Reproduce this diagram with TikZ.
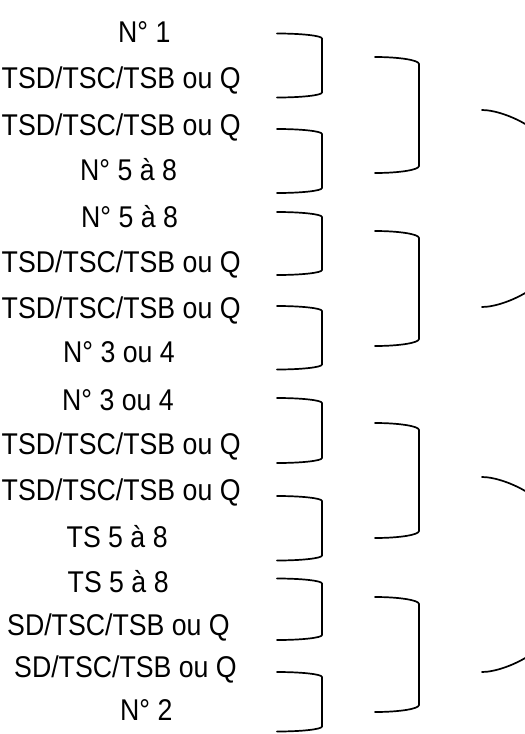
\documentclass[tikz,border=0pt]{standalone}
\usepackage{fontspec}
\usepackage{graphicx}
\setmainfont{Liberation Sans}
\newcommand\sx[1]{\scalebox{0.89}[1]{#1}}
% right bracket: left x, right x, top y, bottom y, corner height
\newcommand\mybracket[5]{%
  \draw[brk] (#1,#3) .. controls ({#1+0.552*(#2-#1)},#3) and (#2,{#3+0.448*#5}) .. (#2,{#3+#5})
    -- (#2,{#4-#5}) .. controls (#2,{#4-0.448*#5}) and ({#1+0.552*(#2-#1)},#4) .. (#1,#4);}
% outer brace (partly cut off by the right edge)
\newcommand\mybrace[3]{%
  \draw[brk] (#1,#2) .. controls ({#1+13},#2) and ({#1+33},{#2+7}) .. ({#1+48},{#2+17})
    .. controls ({#1+56},{#2+23}) and ({#1+58},{#2+35}) .. ({#1+58},{#2+50})
    -- ({#1+58},{#3-50})
    .. controls ({#1+58},{#3-35}) and ({#1+56},{#3-23}) .. ({#1+48},{#3-17})
    .. controls ({#1+33},{#3-7}) and ({#1+13},#3) .. (#1,#3);}
\begin{document}
\begin{tikzpicture}[x=1pt,y=-1pt,
  txt/.style={font=\fontsize{30}{30}\selectfont, inner sep=0pt, anchor=base west},
  brk/.style={line width=1.7pt, line cap=round, line join=round}]
\useasboundingbox (0,0) rectangle (525,734);
\clip (0,0) rectangle (525,734);
\node[txt] (l1)  at (118,{32+10.8})  {\sx{N° 1}};
\node[txt] (l2)  at (1.5,{78+10.8})  {\sx{TSD/TSC/TSB ou Q}};
\node[txt] (l3)  at (1.5,{125+10.8}) {\sx{TSD/TSC/TSB ou Q}};
\node[txt] (l4)  at (80,{170+10.8})  {\sx{N° 5 à 8}};
\node[txt] (l5)  at (81,{217+10.8})  {\sx{N° 5 à 8}};
\node[txt] (l6)  at (1.5,{262+10.8}) {\sx{TSD/TSC/TSB ou Q}};
\node[txt] (l7)  at (1.5,{308+10.8}) {\sx{TSD/TSC/TSB ou Q}};
\node[txt] (l8)  at (63,{352+10.8})  {\sx{N° 3 ou 4}};
\node[txt] (l9)  at (62,{400+10.8})  {\sx{N° 3 ou 4}};
\node[txt] (l10) at (1.5,{444+10.8}) {\sx{TSD/TSC/TSB ou Q}};
\node[txt] (l11) at (1.5,{490+10.8}) {\sx{TSD/TSC/TSB ou Q}};
\node[txt] (l12) at (66.5,{537+10.8}) {\sx{TS 5 à 8}};
\node[txt] (l13) at (67.5,{582+10.8}) {\sx{TS 5 à 8}};
\node[txt] (l14) at (7,{625+10.8})   {\sx{SD/TSC/TSB ou Q}};
\node[txt] (l15) at (14,{667+10.8})  {\sx{SD/TSC/TSB ou Q}};
\node[txt] (l16) at (120,{710+10.8}) {\sx{N° 2}};
% first level
\mybracket{277}{322}{33.5}{97.5}{5}
\mybracket{277}{322}{129}{193}{5}
\mybracket{277}{322}{212}{275}{5}
\mybracket{277}{322}{306}{369.5}{5}
\mybracket{277}{322}{398}{463}{5}
\mybracket{277}{322}{496}{560.5}{5}
\mybracket{277}{322}{578.5}{640}{5}
\mybracket{277}{322}{672}{731.5}{5}
% second level
\mybracket{375}{419}{57}{173}{7}
\mybracket{375}{419}{231}{346}{7}
\mybracket{375}{419}{423}{538}{7}
\mybracket{375}{419}{597}{712}{7}
% third level
\mybrace{482}{110}{307}
\mybrace{482}{477}{672}
\end{tikzpicture}
\end{document}
